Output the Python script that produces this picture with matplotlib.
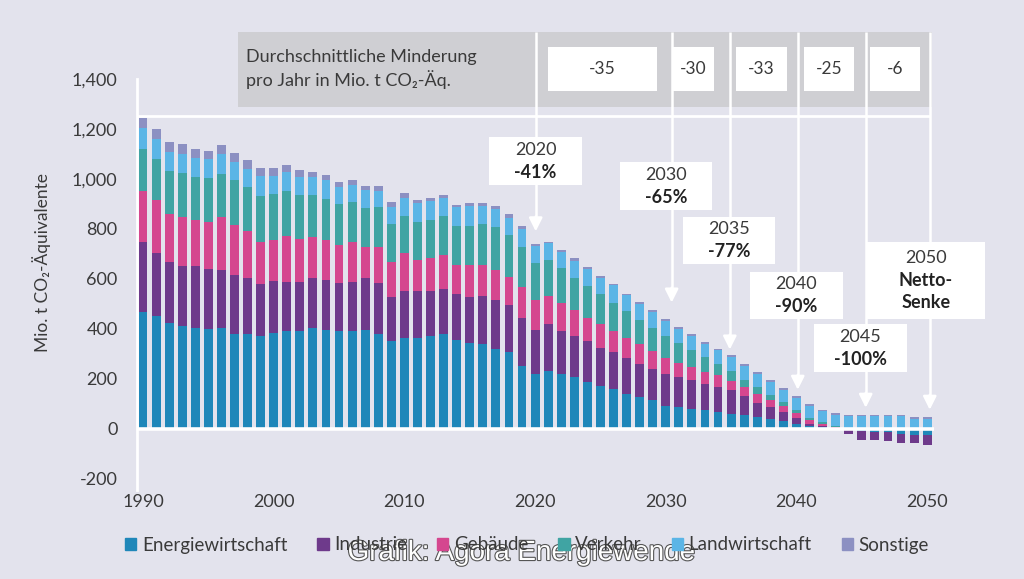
import matplotlib
matplotlib.use("Agg")
import matplotlib.pyplot as plt
import matplotlib.patches as mpatches
import matplotlib.patheffects as pe
import numpy as np

# ---------------------------------------------------------------------------
# Daten (Mio. t CO2-Äq.)
# ---------------------------------------------------------------------------
years = list(range(1990, 2051))

energie = [466, 450, 425, 412, 404, 398, 404, 380, 380, 373,
           385, 393, 393, 404, 397, 392, 393, 397, 380, 350,
           364, 364, 372, 380, 357, 345, 340, 319, 306, 253,
           219, 233, 219, 206, 186, 172, 160, 140, 127, 114,
           92, 87, 80, 74, 67, 60, 56, 49, 40, 33,
           20, 12, 6, 3, 0, -8, -12, -12, -20, -24,
           -26]
industrie = [283, 253, 243, 238, 246, 243, 231, 234, 223, 206,
             205, 196, 196, 199, 198, 191, 196, 206, 203, 179,
             187, 187, 179, 178, 182, 184, 190, 198, 190, 190,
             178, 186, 172, 166, 164, 152, 146, 144, 131, 124,
             126, 120, 114, 107, 100, 96, 74, 56, 47, 33,
             23, 9, 4, 0, -22, -36, -32, -38, -36, -32,
             -40]
gebaeude = [202, 211, 192, 199, 186, 187, 214, 200, 187, 170,
            167, 184, 171, 164, 162, 154, 158, 126, 146, 139,
            151, 124, 131, 138, 116, 126, 126, 120, 112, 123,
            120, 112, 112, 102, 94, 94, 86, 81, 80, 74,
            67, 57, 53, 47, 47, 37, 37, 35, 27, 27,
            20, 15, 10, 5, 2, 0, 0, 0, 0, 0,
            0]
verkehr = [167, 164, 170, 176, 170, 176, 171, 180, 176, 184,
           182, 178, 174, 167, 164, 164, 159, 154, 159, 151,
           151, 154, 154, 156, 158, 158, 164, 171, 167, 163,
           147, 144, 140, 131, 127, 120, 112, 107, 99, 92,
           86, 79, 70, 60, 44, 40, 29, 27, 20, 13,
           11, 7, 6, 5, 3, 2, 2, 2, 2, 2,
           2]
landwirtschaft = [87, 80, 76, 75, 76, 76, 79, 74, 75, 80,
                  72, 75, 74, 72, 75, 67, 70, 71, 65, 70,
                  70, 76, 74, 71, 76, 79, 72, 72, 70, 70,
                  67, 67, 65, 68, 67, 67, 70, 62, 64, 63,
                  61, 56, 56, 53, 56, 56, 57, 53, 53, 49,
                  49, 48, 44, 44, 45, 48, 48, 48, 48, 39,
                  39]
sonstige = [37, 40, 41, 41, 37, 31, 36, 35, 33, 30,
            33, 28, 27, 21, 20, 21, 20, 17, 17, 20,
            20, 11, 13, 13, 7, 11, 11, 11, 13, 11,
            8, 7, 8, 10, 8, 5, 5, 7, 7, 8,
            8, 8, 8, 7, 7, 8, 7, 7, 7, 7,
            7, 7, 7, 7, 7, 7, 7, 7, 7, 7,
            7]

sektoren = ["Energiewirtschaft", "Industrie", "Gebäude", "Verkehr",
            "Landwirtschaft", "Sonstige"]
farben = ["#1f87b9", "#6e3a8b", "#d5478f", "#40a4a3", "#5bb5e6", "#8c90c2"]

referenz_1990 = 1250

minderung_werte = ["-35", "-30", "-33", "-25", "-6"]
minderung_bereiche = [(2021.0, 2029.3), (2030.55, 2033.7), (2035.35, 2039.3),
                      (2040.55, 2044.4), (2045.6, 2049.45)]

ziel_jahre = ["2020", "2030", "2035", "2040", "2045", "2050"]
ziel_texte = ["-41%", "-65%", "-77%", "-90%", "-100%", "Netto-\nSenke"]

BG = "#e3e3ed"
BANNER = "#cfcfd3"
TXT = "#3a3a3a"
FONT = ["Lato", "DejaVu Sans"]

plt.rcParams["font.family"] = FONT

fig = plt.figure(figsize=(10.24, 5.79), dpi=100, facecolor=BG)
ax = fig.add_axes([137 / 1024, 1 - 490 / 579, 798 / 1024, 411 / 579])
ax.set_facecolor(BG)

x0, x1 = 1989.54, 2050.6
ax.set_xlim(x0, x1)
ax.set_ylim(-245, 1400)

# ---gestapelte Balken---
reihen = [energie, industrie, gebaeude, verkehr, landwirtschaft, sonstige]
pos_bottom = np.zeros(len(years))
neg_bottom = np.zeros(len(years))
for name, werte, farbe in zip(sektoren, reihen, farben):
    werte = np.array(werte, dtype=float)
    pos = np.where(werte > 0, werte, 0)
    neg = np.where(werte < 0, werte, 0)
    ax.bar(years, pos, bottom=pos_bottom, width=0.68, color=farbe,
           label=name, zorder=2, linewidth=0)
    ax.bar(years, neg, bottom=neg_bottom, width=0.68, color=farbe,
           zorder=2, linewidth=0)
    pos_bottom += pos
    neg_bottom += neg

# Nulllinie und 1990-Niveau
ax.hlines(0, x0, 2050.5, color="white", lw=2.6, zorder=3)
ax.hlines(referenz_1990, x0, 2050.2, color="white", lw=2, zorder=3)

# Achsen
for s in ["top", "right", "bottom"]:
    ax.spines[s].set_visible(False)
ax.spines["left"].set_color("white")
ax.spines["left"].set_linewidth(2)
ax.set_yticks(range(-200, 1401, 200))
ax.set_yticklabels([f"{v:,}" for v in range(-200, 1401, 200)])
ax.set_xticks(range(1990, 2051, 10))
ax.tick_params(axis="both", length=0, labelsize=13, colors=TXT)
ax.tick_params(axis="y", pad=14)
ax.tick_params(axis="x", pad=3)

fig.text(42 / 1024, 1 - 262 / 579, "Mio. t CO₂-Äquivalente", rotation=90,
         ha="center", va="center", fontsize=12.5, color=TXT)

# ---Banner: durchschnittliche Minderung---
ax.add_patch(mpatches.Rectangle((1997.3, 1288), 2050.4 - 1997.3, 300,
                                facecolor=BANNER, edgecolor="none",
                                zorder=4, clip_on=False))
ax.text(1997.9, 1440, "Durchschnittliche Minderung\npro Jahr in Mio. t CO₂-Äq.",
        ha="left", va="center", fontsize=13, color=TXT, linespacing=1.3,
        zorder=6, clip_on=False)
for wert, (a, b) in zip(minderung_werte, minderung_bereiche):
    ax.add_patch(mpatches.Rectangle((a, 1352), b - a, 176, facecolor="white",
                                    edgecolor="none", zorder=6, clip_on=False))
    ax.text((a + b) / 2, 1440, wert, ha="center", va="center", fontsize=12.5,
            color=TXT, zorder=7, clip_on=False)

# ---Zielmarken mit Pfeilen---
pfeil_x = [2020.05, 2030.45, 2034.9, 2040.1, 2045.3, 2050.2]
pfeil_spitze = [790, 505, 317, 156, 84, 76]
boxen = [(2016.47, 2023.59, 976, 1168), (2026.5, 2033.53, 876, 1068),
         (2031.3, 2038.36, 660, 848), (2036.44, 2043.56, 440, 628),
         (2041.34, 2048.45, 228, 420), (2045.39, 2054.42, 440, 748)]

for jahr, text, px, spitze, (a, b, lo, hi) in zip(
        ziel_jahre, ziel_texte, pfeil_x, pfeil_spitze, boxen):
    ax.plot([px, px], [1588, spitze + 40], color="white", lw=1.8,
            zorder=5, clip_on=False, solid_capstyle="butt")
    ax.annotate("", xy=(px, spitze), xytext=(px, spitze + 60),
                arrowprops=dict(arrowstyle="-|>", color="white", lw=1.8,
                                mutation_scale=20, shrinkA=0, shrinkB=0),
                zorder=5, annotation_clip=False)
    ax.add_patch(mpatches.Rectangle((a, lo), b - a, hi - lo, facecolor="white",
                                    edgecolor="none", zorder=6, clip_on=False))
    cx = (a + b) / 2
    n = text.count("\n") + 1
    cy = (lo + hi) / 2
    step = 90
    top = cy + step * n / 2
    ax.text(cx, top, jahr, ha="center", va="center", fontsize=13,
            color=TXT, zorder=7, clip_on=False)
    for i, zeile in enumerate(text.split("\n")):
        ax.text(cx, top - step * (i + 1), zeile, ha="center", va="center",
                fontsize=13, fontweight="bold", color="#222222",
                zorder=7, clip_on=False)

# ---Legende---
handles = [mpatches.Patch(color=f, label=s) for s, f in zip(sektoren, farben)]
fig.legend(handles=handles, loc="center", bbox_to_anchor=(527 / 1024, 1 - 545 / 579),
           ncol=6, frameon=False, fontsize=13.5, handlelength=0.6,
           handleheight=0.6, handletextpad=0.3, columnspacing=1.6,
           labelcolor=TXT)

fig.text(521 / 1024, 1 - 553 / 579, "Grafik: Agora Energiewende",
         ha="center", va="center", fontsize=20, color="white",
         family=["Liberation Sans", "DejaVu Sans"],
         path_effects=[pe.withStroke(linewidth=1.6, foreground="#555555")])

fig.savefig("out.png", dpi=100, facecolor=BG)
